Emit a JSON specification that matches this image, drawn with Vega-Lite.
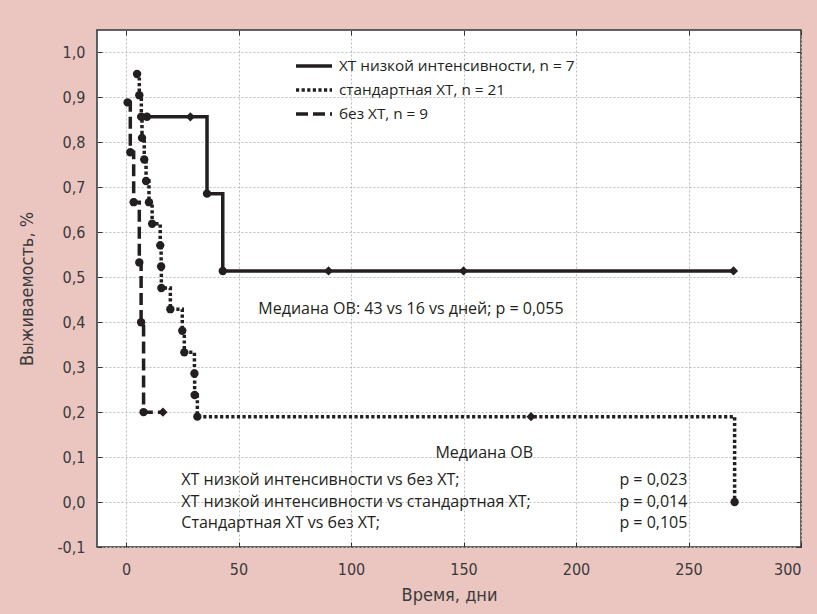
{
  "$schema": "https://vega.github.io/schema/vega-lite/v6.json",
  "autosize": {"type": "none"},
  "width": 704,
  "height": 517,
  "padding": {"left": 97, "top": 30, "right": 16, "bottom": 67},
  "background": "#ebc6c1",
  "config": {
    "view": {"fill": "white", "stroke": "#333333", "strokeWidth": 1.5},
    "axis": {
      "labelFont": "DejaVu Sans Condensed, Open Sans",
      "labelFontSize": 16,
      "labelColor": "#3a3a3a",
      "titleFont": "DejaVu Sans Condensed, Open Sans",
      "titleFontSize": 18,
      "titleFontWeight": "normal",
      "titleColor": "#3a3a3a",
      "tickColor": "#333333",
      "tickSize": -5,
      "tickWidth": 1,
      "domain": false,
      "gridColor": "#bdbdbd",
      "gridDash": [2, 2],
      "gridWidth": 1
    },
    "legend": {
      "orient": "none",
      "legendX": 206,
      "legendY": 25,
      "title": null,
      "padding": 0,
      "symbolType": "M-2,0H2",
      "symbolSize": 324,
      "symbolStrokeWidth": 3.5,
      "symbolStrokeColor": "#231f20",
      "symbolFillColor": "transparent",
      "labelFont": "Open Sans",
      "labelFontSize": 15.3,
      "labelColor": "#231f20",
      "labelOffset": 14,
      "labelLimit": 0,
      "rowPadding": 4
    }
  },
  "datasets": {
    "curves": [
      {"g": "ХТ низкой интенсивности, n = 7", "t": 5, "S": 0.857, "m": "n"},
      {"g": "ХТ низкой интенсивности, n = 7", "t": 9.3, "S": 0.857, "m": "c"},
      {"g": "ХТ низкой интенсивности, n = 7", "t": 28.6, "S": 0.857, "m": "d"},
      {"g": "ХТ низкой интенсивности, n = 7", "t": 36, "S": 0.686, "m": "c"},
      {"g": "ХТ низкой интенсивности, n = 7", "t": 43, "S": 0.514, "m": "c"},
      {"g": "ХТ низкой интенсивности, n = 7", "t": 90, "S": 0.514, "m": "d"},
      {"g": "ХТ низкой интенсивности, n = 7", "t": 150, "S": 0.514, "m": "d"},
      {"g": "ХТ низкой интенсивности, n = 7", "t": 270, "S": 0.514, "m": "d"},
      {"g": "стандартная ХТ, n = 21", "t": 4.9, "S": 0.952, "m": "c"},
      {"g": "стандартная ХТ, n = 21", "t": 5.9, "S": 0.905, "m": "c"},
      {"g": "стандартная ХТ, n = 21", "t": 6.8, "S": 0.857, "m": "c"},
      {"g": "стандартная ХТ, n = 21", "t": 7.1, "S": 0.81, "m": "c"},
      {"g": "стандартная ХТ, n = 21", "t": 8.1, "S": 0.762, "m": "c"},
      {"g": "стандартная ХТ, n = 21", "t": 8.9, "S": 0.714, "m": "c"},
      {"g": "стандартная ХТ, n = 21", "t": 10.2, "S": 0.667, "m": "c"},
      {"g": "стандартная ХТ, n = 21", "t": 11.6, "S": 0.619, "m": "c"},
      {"g": "стандартная ХТ, n = 21", "t": 15.2, "S": 0.571, "m": "c"},
      {"g": "стандартная ХТ, n = 21", "t": 15.6, "S": 0.524, "m": "c"},
      {"g": "стандартная ХТ, n = 21", "t": 15.7, "S": 0.476, "m": "c"},
      {"g": "стандартная ХТ, n = 21", "t": 19.7, "S": 0.429, "m": "c"},
      {"g": "стандартная ХТ, n = 21", "t": 25, "S": 0.381, "m": "c"},
      {"g": "стандартная ХТ, n = 21", "t": 25.9, "S": 0.333, "m": "c"},
      {"g": "стандартная ХТ, n = 21", "t": 30.4, "S": 0.286, "m": "c"},
      {"g": "стандартная ХТ, n = 21", "t": 30.5, "S": 0.238, "m": "c"},
      {"g": "стандартная ХТ, n = 21", "t": 31.7, "S": 0.19, "m": "c"},
      {"g": "стандартная ХТ, n = 21", "t": 180, "S": 0.19, "m": "d"},
      {"g": "стандартная ХТ, n = 21", "t": 270.5, "S": 0.0, "m": "c"},
      {"g": "без ХТ, n = 9", "t": 0.7, "S": 0.889, "m": "c"},
      {"g": "без ХТ, n = 9", "t": 1.9, "S": 0.778, "m": "c"},
      {"g": "без ХТ, n = 9", "t": 3.4, "S": 0.667, "m": "c"},
      {"g": "без ХТ, n = 9", "t": 5.9, "S": 0.533, "m": "c"},
      {"g": "без ХТ, n = 9", "t": 6.7, "S": 0.4, "m": "c"},
      {"g": "без ХТ, n = 9", "t": 7.8, "S": 0.2, "m": "c"},
      {"g": "без ХТ, n = 9", "t": 16.4, "S": 0.2, "m": "d"}
    ]
  },
  "layer": [
    {
      "data": {"name": "curves"},
      "mark": {"type": "line", "interpolate": "step-after", "strokeWidth": 3.5, "color": "#231f20"},
      "encoding": {
        "x": {
          "field": "t", "type": "quantitative",
          "scale": {"domain": [-12.9, 300], "nice": false, "zero": false},
          "axis": {
            "values": [0, 50, 100, 150, 200, 250, 300],
            "format": "d",
            "labelPadding": 19,
            "title": "Время, дни",
            "titlePadding": 9
          }
        },
        "y": {
          "field": "S", "type": "quantitative",
          "scale": {"domain": [-0.1, 1.05], "nice": false, "zero": false},
          "axis": {
            "values": [-0.1, 0, 0.1, 0.2, 0.3, 0.4, 0.5, 0.6, 0.7, 0.8, 0.9, 1.0],
            "labelExpr": "replace(replace(format(datum.value, '.1f'), '.', ','), '\u2212', '-')",
            "labelPadding": 17,
            "title": "Выживаемость, %",
            "titlePadding": 20
          }
        },
        "detail": {"field": "g"},
        "strokeDash": {
          "field": "g", "type": "nominal",
          "scale": {
            "domain": ["ХТ низкой интенсивности, n = 7", "стандартная ХТ, n = 21", "без ХТ, n = 9"],
            "range": [[1, 0], [3.2, 2.4], [12, 5]]
          }
        }
      }
    },
    {
      "data": {"name": "curves"},
      "transform": [{"filter": "datum.m === 'c'"}],
      "mark": {"type": "point", "shape": "circle", "filled": true, "size": 70, "opacity": 1, "color": "#231f20"},
      "encoding": {
        "x": {"field": "t", "type": "quantitative", "axis": {"orient": "top", "values": [0, 50, 100, 150, 200, 250, 300], "labels": false, "grid": false, "title": null}},
        "y": {"field": "S", "type": "quantitative", "axis": {"orient": "right", "values": [-0.1, 0, 0.1, 0.2, 0.3, 0.4, 0.5, 0.6, 0.7, 0.8, 0.9, 1.0], "labels": false, "grid": false, "title": null}}
      }
    },
    {
      "data": {"name": "curves"},
      "transform": [{"filter": "datum.m === 'd'"}],
      "mark": {"type": "point", "shape": "diamond", "filled": true, "size": 85, "opacity": 1, "color": "#231f20"},
      "encoding": {
        "x": {"field": "t", "type": "quantitative", "axis": null},
        "y": {"field": "S", "type": "quantitative", "axis": null}
      }
    },
    {
      "data": {"values": [
        {"t": 58.8, "S": 0.43, "label": "Медиана ОВ: 43 vs 16 vs дней; p = 0,055"},
        {"t": 137.5, "S": 0.11, "label": "Медиана ОВ"},
        {"t": 24.6, "S": 0.048, "label": "ХТ низкой интенсивности vs без ХТ;"},
        {"t": 24.6, "S": 0.0, "label": "ХТ низкой интенсивности vs стандартная ХТ;"},
        {"t": 24.6, "S": -0.046, "label": "Стандартная ХТ vs без ХТ;"}
      ]},
      "mark": {"type": "text", "align": "left", "baseline": "middle", "font": "Open Sans", "fontSize": 16, "color": "#231f20"},
      "encoding": {
        "x": {"field": "t", "type": "quantitative", "axis": null},
        "y": {"field": "S", "type": "quantitative", "axis": null},
        "text": {"field": "label"}
      }
    },
    {
      "data": {"values": [
        {"t": 249.5, "S": 0.048, "label": "p = 0,023"},
        {"t": 249.5, "S": 0.0, "label": "p = 0,014"},
        {"t": 249.5, "S": -0.046, "label": "p = 0,105"}
      ]},
      "mark": {"type": "text", "align": "right", "baseline": "middle", "font": "Open Sans", "fontSize": 16, "color": "#231f20"},
      "encoding": {
        "x": {"field": "t", "type": "quantitative", "axis": null},
        "y": {"field": "S", "type": "quantitative", "axis": null},
        "text": {"field": "label"}
      }
    }
  ],
  "resolve": {"axis": {"x": "independent", "y": "independent"}}
}
